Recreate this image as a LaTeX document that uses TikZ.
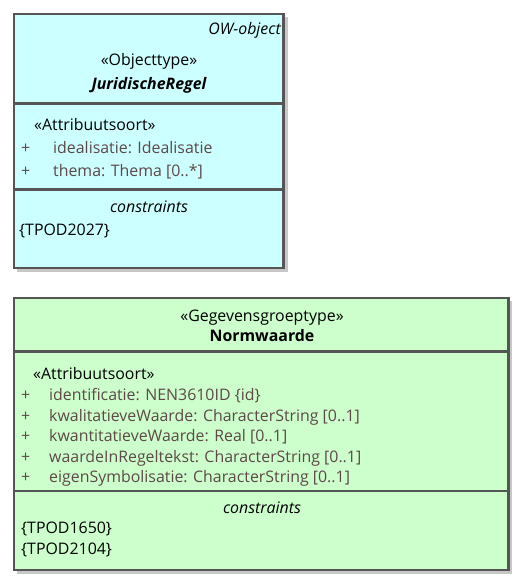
\documentclass[tikz,border=0pt]{standalone}
\usepackage{fontspec}
\setmainfont{Open Sans}
\usetikzlibrary{positioning}
\definecolor{objfill}{HTML}{CCFFFF}
\definecolor{grpfill}{HTML}{CCFFCC}
\definecolor{rand}{HTML}{555555}
\definecolor{attkl}{HTML}{5E4848}
\tikzset{%
    kader/.style={draw=rand, line width = 2.8pt},
    schaduw/.style={fill=black!22},
    lijn/.style={draw=rand, line width = 2.8pt},
    txt/.style={inner sep=0pt, font=\fontsize{15.9}{18}\selectfont},
    lnk/.style={txt, anchor=base west},
    att/.style={txt, anchor=base west, text=attkl},
    mid/.style={txt, anchor=base},
}
\begin{document}
\begin{tikzpicture}[x=1pt, y=-1pt]
    \useasboundingbox (0,0) rectangle (525,585);
    % JuridischeRegel
    \fill [schaduw](17,17) rectangle (287.5,271.5);
    \draw [kader, fill=objfill](14,14) rectangle (283.5,268);
    \draw [lijn](14,103.3)--(283.5,103.3);
    \draw [lijn](14,189.3)--(283.5,189.3);
    \node (owobj) [txt, anchor=base east] at (281,35) {\itshape OW-object};
    \node (jrst) [mid] at (149,66) {«Objecttype»};
    \node (jrnaam) [mid] at (149,90) {\bfseries\itshape JuridischeRegel};
    \node (jratt) [lnk] at (34,131) {«Attribuutsoort»};
    \node (jrp1) [att] at (21,154) {+};
    \node (jra1) [att] at (53,154) {idealisatie: Idealisatie};
    \node (jrp2) [att] at (21,177) {+};
    \node (jra2) [att] at (53,177) {thema: Thema [0..*]};
    \node (jrcon) [mid] at (149,212) {\itshape constraints};
    \node (jrc1) [lnk] at (19,235) {\{TPOD2027\}};
    % Normwaarde
    \fill [schaduw](17,301) rectangle (512,574);
    \draw [kader, fill=grpfill](14,298) rectangle (508.5,570);
    \draw [lijn](14,351.7)--(508.5,351.7);
    \draw [lijn](14,491)--(508.5,491);
    \node (nwst) [mid] at (262,321) {«Gegevensgroeptype»};
    \node (nwnaam) [mid] at (262,341) {\bfseries Normwaarde};
    \node (nwatt) [lnk] at (33,379) {«Attribuutsoort»};
    \node (nwp1) [att] at (21,400) {+};
    \node (nwa1) [att] at (49,400) {identificatie: NEN3610ID \{id\}};
    \node (nwp2) [att] at (21,421) {+};
    \node (nwa2) [att] at (49,421) {kwalitatieveWaarde: CharacterString [0..1]};
    \node (nwp3) [att] at (21,441) {+};
    \node (nwa3) [att] at (49,441) {kwantitatieveWaarde: Real [0..1]};
    \node (nwp4) [att] at (21,462) {+};
    \node (nwa4) [att] at (49,462) {waardeInRegeltekst: CharacterString [0..1]};
    \node (nwp5) [att] at (21,482) {+};
    \node (nwa5) [att] at (49,482) {eigenSymbolisatie: CharacterString [0..1]};
    \node (nwcon) [mid] at (262,513) {\itshape constraints};
    \node (nwc1) [lnk] at (21,533) {\{TPOD1650\}};
    \node (nwc2) [lnk] at (21,554) {\{TPOD2104\}};
\end{tikzpicture}
\end{document}
